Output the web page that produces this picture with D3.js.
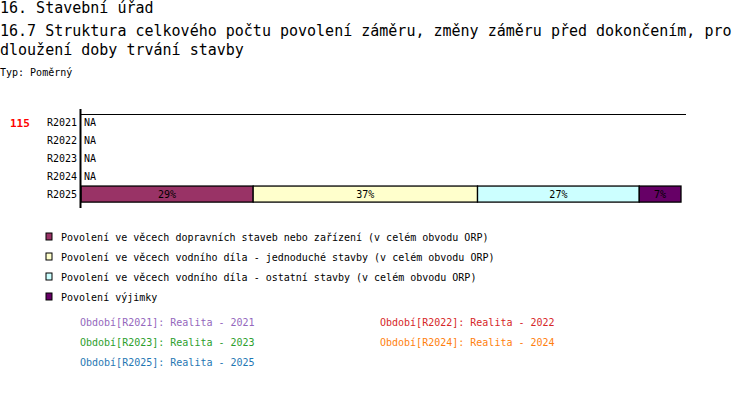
<!DOCTYPE html>
<html><head><meta charset="utf-8">
<script src="https://cdn.jsdelivr.net/npm/d3@7"></script>
<style>body{margin:0;background:#fff}svg{display:block}</style>
</head><body><svg id="c" width="750" height="420"></svg>
<script>
const titleLines = ["16. Stavební úřad", "16.7 Struktura celkového počtu povolení záměru, změny záměru před dokončením, pro", "dloužení doby trvání stavby"];
const typLabel = "Typ: Poměrný";
const totalLabel = "115";
const periods = ["R2021", "R2022", "R2023", "R2024", "R2025"];
const seriesNames = [
  "Povolení ve věcech dopravních staveb nebo zařízení (v celém obvodu ORP)",
  "Povolení ve věcech vodního díla - jednoduché stavby (v celém obvodu ORP)",
  "Povolení ve věcech vodního díla - ostatní stavby (v celém obvodu ORP)",
  "Povolení výjimky"
];
const seriesColors = ["#993366", "#FFFFCC", "#CCFFFF", "#660066"];
// values per period (null = NA), per series
const valuesS1 = [null, null, null, null, 33];
const valuesS2 = [null, null, null, null, 43];
const valuesS3 = [null, null, null, null, 31];
const valuesS4 = [null, null, null, null, 8];
const periodLabels = ["Období[R2021]: Realita - 2021", "Období[R2022]: Realita - 2022", "Období[R2023]: Realita - 2023", "Období[R2024]: Realita - 2024", "Období[R2025]: Realita - 2025"];
const periodColors = ["#9467bd", "#d62728", "#2ca02c", "#ff7f0e", "#1f77b4"];

const svg = d3.select("#c");
const mono = "'DejaVu Sans Mono', monospace";

const titleY = [13, 36, 55];
svg.selectAll("text.title").data(titleLines).join("text")
  .attr("x", 0).attr("y", (d, i) => titleY[i])
  .attr("font-family", mono).attr("font-size", 15).attr("fill", "#000")
  .text(d => d);
svg.append("text").attr("x", 0).attr("y", 76).attr("font-family", mono)
  .attr("font-size", 10).text(typLabel);

const x0 = 81, x1 = 681;
const x = d3.scaleLinear().domain([0, 1]).range([x0, x1]);
const y = d3.scaleBand().domain(periods).range([113, 203]).paddingInner(0.11).paddingOuter(0.05);

const allSeries = [valuesS1, valuesS2, valuesS3, valuesS4];
const rows = periods.map((p, i) => {
  const vals = allSeries.map(s => s[i]);
  return { period: p, vals, na: vals.every(v => v == null) };
});

// top line
svg.append("line").attr("x1", 80).attr("x2", 686).attr("y1", 114.5).attr("y2", 114.5)
  .attr("stroke", "#000").attr("stroke-width", 1.2);

rows.forEach(r => {
  const cy = y(r.period) + y.bandwidth() / 2;
  svg.append("text").attr("x", 77).attr("y", cy + 4).attr("text-anchor", "end")
    .attr("font-family", mono).attr("font-size", 10).text(r.period);
  if (r.na) {
    svg.append("text").attr("x", 84).attr("y", cy + 4)
      .attr("font-family", mono).attr("font-size", 10).text("NA");
    return;
  }
  const total = d3.sum(r.vals);
  let acc = 0;
  r.vals.forEach((v, k) => {
    const a = acc / total, b = (acc + v) / total;
    acc += v;
    svg.append("rect").attr("x", x(a)).attr("y", y(r.period))
      .attr("width", x(b) - x(a)).attr("height", y.bandwidth())
      .attr("fill", seriesColors[k]).attr("stroke", "#000").attr("stroke-width", 1.3);
    svg.append("text").attr("x", (x(a) + x(b)) / 2).attr("y", y(r.period) + y.bandwidth() / 2 + 4)
      .attr("text-anchor", "middle").attr("font-family", mono).attr("font-size", 10)
      .text(Math.round(v / total * 100) + "%");
  });
});

// vertical axis
svg.append("line").attr("x1", 80.5).attr("x2", 80.5).attr("y1", 109).attr("y2", 208)
  .attr("stroke", "#000").attr("stroke-width", 2);

svg.append("text").attr("x", 10).attr("y", 127).attr("font-family", mono)
  .attr("font-size", 11).attr("font-weight", "bold").attr("fill", "#ff0000").text(totalLabel);

// legend
seriesNames.forEach((n, i) => {
  const ly = 237 + i * 20;
  svg.append("rect").attr("x", 46).attr("y", ly - 4).attr("width", 6).attr("height", 7)
    .attr("fill", seriesColors[i]).attr("stroke", "#000").attr("stroke-width", 1);
  svg.append("text").attr("x", 61).attr("y", ly + 4).attr("font-family", mono)
    .attr("font-size", 10).text(n);
});

periodLabels.forEach((p, i) => {
  const col = i % 2, row = Math.floor(i / 2);
  svg.append("text").attr("x", col ? 380 : 80).attr("y", 326 + row * 20)
    .attr("font-family", mono).attr("font-size", 10).attr("fill", periodColors[i]).text(p);
});
</script></body></html>
